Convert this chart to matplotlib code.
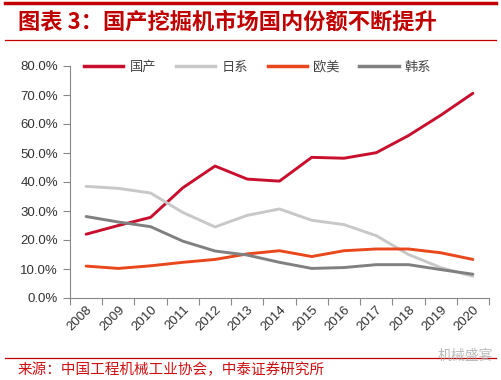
import numpy as np
import matplotlib.pyplot as plt
from matplotlib.lines import Line2D

plt.rcParams['font.family'] = ['Liberation Sans', 'Noto Sans CJK SC', 'DejaVu Sans']

years = ['2008', '2009', '2010', '2011', '2012', '2013', '2014',
         '2015', '2016', '2017', '2018', '2019', '2020']
domestic = [22.0, 25.0, 27.8, 38.0, 45.5, 41.0, 40.3, 48.5, 48.2, 50.1, 56.0, 63.0, 70.6]
japan = [38.5, 37.8, 36.2, 29.5, 24.5, 28.5, 30.7, 26.8, 25.3, 21.5, 15.0, 10.5, 7.5]
euro_us = [11.0, 10.2, 11.1, 12.3, 13.3, 15.2, 16.3, 14.3, 16.3, 16.9, 16.9, 15.6, 13.3]
korea = [28.1, 26.2, 24.6, 19.6, 16.2, 14.8, 12.3, 10.2, 10.5, 11.5, 11.5, 9.8, 8.2]

series_names = ['国产', '日系', '欧美', '韩系']
colors = ['#C8102E', '#C8C8C8', '#E8481C', '#808080']

fig = plt.figure(figsize=(5.01, 3.8), dpi=100)
ax = fig.add_axes([70 / 501, 1 - 298 / 380, 419 / 501, 232 / 380])

x = np.arange(len(years))
for vals, c in zip([domestic, japan, euro_us, korea], colors):
    ax.plot(x, np.array(vals) / 100, color=c, lw=2.1, solid_capstyle='round')

ax.set_xlim(-0.5, len(years) - 0.5)
ax.set_ylim(0, 0.8)
ax.set_yticks(np.arange(0, 0.81, 0.1))
ax.set_yticklabels(['%.1f%%' % (v * 100) for v in np.arange(0, 0.81, 0.1)],
                   fontsize=9.5, color='#333333')
ax.set_xticks(np.arange(-0.5, len(years)), minor=False)
ax.set_xticklabels([])
ax.set_xticks(x, minor=True)
ax.set_xticklabels(years, minor=True, rotation=45, fontsize=9.5, color='#333333',
                   ha='right', va='top', rotation_mode='anchor')
ax.tick_params(axis='x', which='minor', length=0, pad=4)
ax.tick_params(axis='x', which='major', length=5, color='#888888', direction='out')
ax.tick_params(axis='y', length=5, color='#888888', direction='out')
for s in ['top', 'right']:
    ax.spines[s].set_visible(False)
for s in ['left', 'bottom']:
    ax.spines[s].set_color('#888888')

handles = [Line2D([0], [0], color=c, lw=2.5) for c in colors]
leg = fig.legend(handles, series_names, loc='center left', bbox_to_anchor=(72 / 501, 1 - 67 / 380),
                 ncol=4, frameon=False, handlelength=3.0, handletextpad=0.45,
                 columnspacing=1.5, prop={'family': 'Noto Sans CJK SC', 'size': 9.5})
for t in leg.get_texts():
    t.set_color('#444444')

# header and footer decorations
red = '#C00000'
fig.add_artist(Line2D([5 / 501, 496 / 501], [1 - 3 / 380, 1 - 3 / 380], color=red, lw=2.5))
fig.add_artist(Line2D([5 / 501, 496 / 501], [1 - 40 / 380, 1 - 40 / 380], color=red, lw=0.9))
fig.add_artist(Line2D([5 / 501, 496 / 501], [1 - 358 / 380, 1 - 358 / 380], color=red, lw=0.9))
fig.text(18 / 501, 1 - 22 / 380, '图表 3：国产挖掘机市场国内份额不断提升', color=red,
         fontsize=16, fontweight='bold', family='Noto Sans CJK SC', va='center', ha='left')
fig.text(18 / 501, 1 - 370 / 380, '来源：中国工程机械工业协会，中泰证券研究所', color='#D01010',
         fontsize=10.5, family='Noto Sans CJK SC', va='center', ha='left')
fig.text(438 / 501, 1 - 356 / 380, '机械盛宴', color='#AAAAAA', alpha=0.8,
         fontsize=10, family='Noto Sans CJK SC', va='center', ha='left')

fig.savefig('out.png', dpi=100)
